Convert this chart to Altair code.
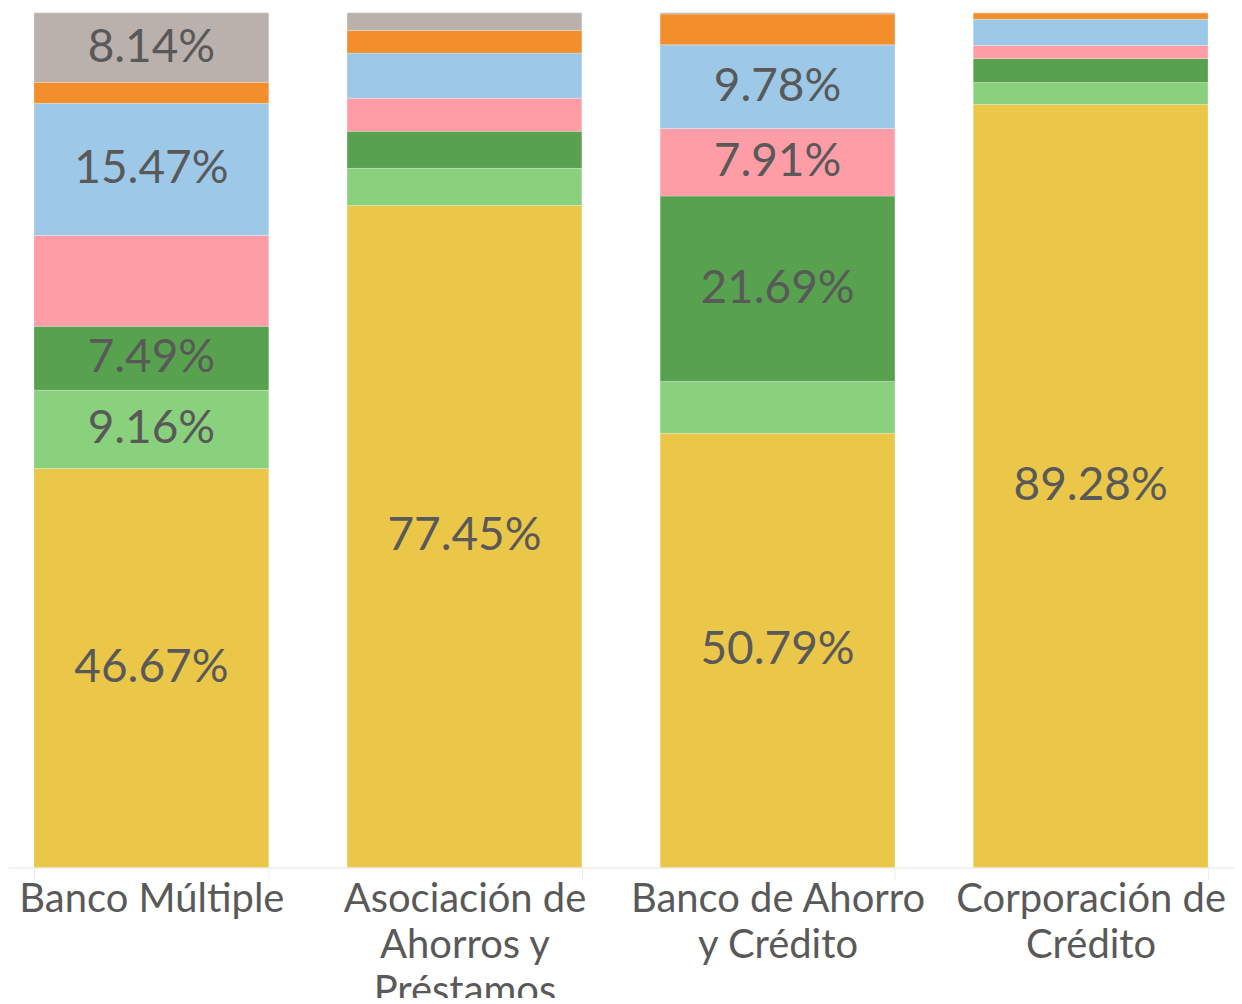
import altair as alt
import pandas as pd

categories = ["Banco Múltiple", "Asociación de|Ahorros y|Préstamos",
              "Banco de Ahorro|y Crédito", "Corporación de|Crédito"]
series = ["S1", "S2", "S3", "S4", "S5", "S6", "S7"]
colors = ["#EAC748", "#8AD17D", "#58A14E", "#FF9DA7", "#9DC8E8", "#F28E2B", "#BAB0AC"]

# values (%) per series, bottom to top, for each category
s1 = [46.67, 77.45, 50.79, 89.28]
s2 = [9.16, 4.35, 6.08, 2.57]
s3 = [7.49, 4.33, 21.69, 2.80]
s4 = [10.62, 3.88, 7.91, 1.52]
s5 = [15.47, 5.28, 9.78, 3.08]
s6 = [2.45, 2.65, 3.60, 0.75]
s7 = [8.14, 2.06, 0.15, 0.00]

# labels shown on segments
l1 = ["46.67%", "77.45%", "50.79%", "89.28%"]
l2 = ["9.16%", "", "", ""]
l3 = ["7.49%", "", "21.69%", ""]
l4 = ["", "", "7.91%", ""]
l5 = ["15.47%", "", "9.78%", ""]
l6 = ["", "", "", ""]
l7 = ["8.14%", "", "", ""]

vals = [s1, s2, s3, s4, s5, s6, s7]
labs = [l1, l2, l3, l4, l5, l6, l7]
rows = []
for si, (name, v, l) in enumerate(zip(series, vals, labs)):
    for ci, cat in enumerate(categories):
        rows.append({"cat": cat, "serie": name, "ord": si, "value": v[ci], "label": l[ci]})
df = pd.DataFrame(rows)

FONT = "Lato"
TXT = "#595959"

base = alt.Chart(df).transform_stack(
    stack="value", groupby=["cat"], as_=["y0", "y1"], sort=[alt.SortField("ord", order="ascending")]
).transform_calculate(mid="(datum.y0 + datum.y1) / 2")

xaxis = alt.Axis(labelExpr="split(datum.label, '|')", labelAngle=0,
                 labelFont=FONT, labelFontSize=40, labelColor=TXT,
                 labelLineHeight=46, labelPadding=0, labelBaseline="top",
                 domainColor="#ECECEC", domainWidth=1.5,
                 tickColor="#ECECEC", tickSize=12, tickBand="extent",
                 labelLimit=400)
xscale = alt.Scale(paddingInner=0.25, paddingOuter=0.083)

bars = base.mark_bar(stroke="white", strokeWidth=0.4, strokeOpacity=0.6).encode(
    x=alt.X("cat:N", sort=categories, title=None, scale=xscale, axis=xaxis),
    y=alt.Y("y0:Q", scale=alt.Scale(domain=[0, 100], nice=False), axis=None),
    y2="y1:Q",
    color=alt.Color("serie:N", scale=alt.Scale(domain=series, range=colors), legend=None),
)

text = base.mark_text(font=FONT, fontSize=46, color=TXT, baseline="middle").encode(
    x=alt.X("cat:N", sort=categories, title=None, axis=xaxis),
    y=alt.Y("mid:Q", axis=None),
    text="label:N",
)

chart = (bars + text).properties(
    width=1228, height=856,
    background="white",
    autosize=alt.AutoSizeParams(type="none"),
    padding={"left": 0, "top": 4, "right": 0, "bottom": 130},
).configure_view(stroke=None)

chart.save("out.html", embed_options={"renderer": "svg", "actions": False})
